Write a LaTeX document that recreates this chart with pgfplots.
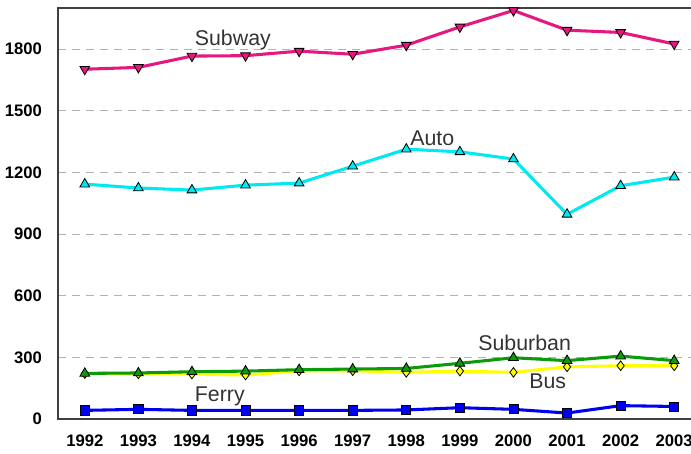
\documentclass[border=0pt]{standalone}
\usepackage{pgfplots}
\pgfplotsset{compat=1.18}
\usepackage{fontspec}
\setmainfont{Liberation Sans}
\definecolor{subway}{HTML}{E6177F}
\definecolor{auto}{HTML}{00E8F0}
\definecolor{suburban}{HTML}{0A9A0A}
\definecolor{bus}{HTML}{FFFF00}
\definecolor{ferry}{HTML}{0000F0}
\definecolor{txt}{HTML}{333333}
\definecolor{axline}{HTML}{404040}
\begin{document}
\begin{tikzpicture}
\useasboundingbox (-43.5pt,-25.5pt) rectangle (474.75pt,314.25pt);
\clip (-43.5pt,-25.5pt) rectangle (474.75pt,314.25pt);
\begin{axis}[
  at={(0pt,0pt)}, anchor=south west,
  scale only axis, width=482.25pt, height=308.25pt,
  xmin=1991.5, xmax=2003.5, ymin=0, ymax=2000,
  xtick={1992,...,2003}, ytick={0,300,...,1800},
  /pgf/number format/1000 sep={},
  /pgf/number format/assume math mode=true,
  major tick length=0pt,
  tick label style={font=\fontsize{12.5}{14}\selectfont\bfseries, text=black},
  yticklabel style={xshift=-8.5pt},
  xticklabel style={yshift=-8pt},
  ymajorgrids,
  grid style={draw=gray!60, line width=0.8pt, dash pattern=on 6pt off 4.5pt},
  axis line style={draw=axline, line width=1.2pt},
  every axis plot/.append style={line width=2.3pt},
  clip=false,
]
\addplot[color=subway, mark=triangle*, mark size=4.2pt,
  mark options={rotate=180, fill=subway, draw=black, line width=0.6pt}]
  coordinates {(1992,1702)(1993,1711)(1994,1766)(1995,1768)(1996,1790)(1997,1775)
  (1998,1819)(1999,1908)(2000,1988)(2001,1892)(2002,1881)(2003,1825)};
\addplot[color=auto, mark=triangle*, mark size=4.2pt,
  mark options={fill=auto, draw=black, line width=0.6pt}]
  coordinates {(1992,1143)(1993,1124)(1994,1114)(1995,1138)(1996,1148)(1997,1230)
  (1998,1313)(1999,1300)(2000,1265)(2001,996)(2002,1135)(2003,1177)};
\addplot[color=bus, mark=diamond*, mark size=3.6pt,
  mark options={fill=bus, draw=black, line width=0.6pt}]
  coordinates {(1992,221)(1993,220)(1994,219)(1995,214)(1996,234)(1997,235)
  (1998,227)(1999,233)(2000,227)(2001,254)(2002,259)(2003,259)};
\addplot[color=suburban, mark=triangle*, mark size=4.2pt,
  mark options={fill=suburban, draw=black, line width=0.6pt}]
  coordinates {(1992,222)(1993,224)(1994,230)(1995,233)(1996,240)(1997,243)
  (1998,246)(1999,271)(2000,298)(2001,284)(2002,306)(2003,284)};
\addplot[color=ferry, mark=square*, mark size=3.4pt,
  mark options={fill=ferry, draw=black, line width=0.6pt}]
  coordinates {(1992,42)(1993,47)(1994,42)(1995,42)(1996,42)(1997,42)
  (1998,44)(1999,55)(2000,47)(2001,29)(2002,65)(2003,61)};
\tikzset{lbl/.style={anchor=base west, inner sep=0pt, text=txt, font=\fontsize{16}{18}\selectfont}}
\node[lbl] at (axis cs:1994.05,1816) {Subway};
\node[lbl] at (axis cs:1998.07,1333) {Auto};
\node[lbl] at (axis cs:1999.34,332) {Suburban};
\node[lbl] at (axis cs:2000.29,150) {Bus};
\node[lbl] at (axis cs:1994.05,84) {Ferry};
\end{axis}
\end{tikzpicture}
\end{document}
